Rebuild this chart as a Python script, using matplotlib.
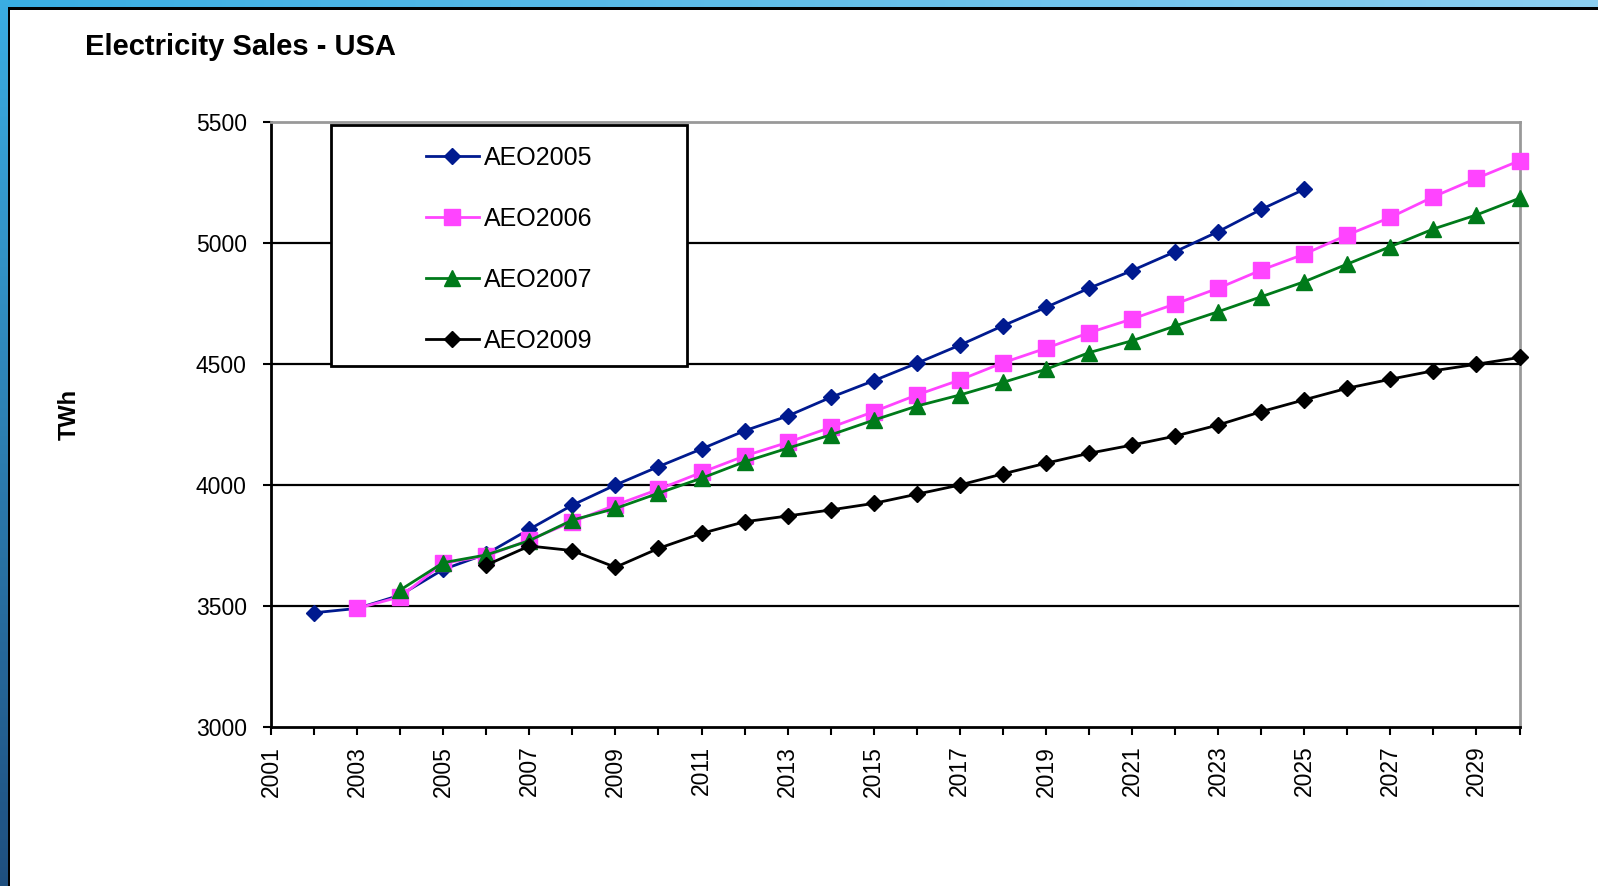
"""
Electricity sales projections for the USA from successive AEO editions.
"""
import matplotlib.pyplot as plt
from matplotlib.patches import Rectangle
import numpy as np

plt.rcParams['font.family'] = ['Liberation Sans', 'DejaVu Sans']

# Projection series (TWh), one list per AEO edition
years_2005 = list(range(2002, 2026))
aeo2005 = [3472, 3490, 3545, 3651, 3715, 3817, 3917, 4000, 4076, 4149, 4224, 4285,
           4362, 4431, 4503, 4578, 4658, 4734, 4813, 4886, 4964, 5047, 5139, 5222]

years_2006 = list(range(2003, 2031))
aeo2006 = [3490, 3538, 3676, 3707, 3773, 3848, 3917, 3982, 4052, 4120, 4176, 4238,
           4303, 4372, 4434, 4505, 4565, 4629, 4686, 4748, 4813, 4888, 4954, 5033,
           5106, 5191, 5267, 5340]

years_2007 = list(range(2004, 2031))
aeo2007 = [3566, 3679, 3711, 3770, 3855, 3903, 3966, 4028, 4096, 4152, 4207, 4268,
           4326, 4372, 4424, 4478, 4547, 4596, 4657, 4716, 4778, 4840, 4913, 4985,
           5058, 5116, 5185]

years_2009 = list(range(2006, 2031))
aeo2009 = [3669, 3748, 3729, 3660, 3738, 3800, 3848, 3872, 3897, 3924, 3962, 4000,
           4046, 4090, 4131, 4165, 4202, 4248, 4303, 4352, 4400, 4437, 4472, 4499,
           4527]

W, H = 1598, 886
fig = plt.figure(figsize=(W / 100, H / 100), dpi=100)

# slide background: blue strips on the top and left, white panel with black edge
bg = np.ones((H, W, 3))
top = np.linspace(0, 1, W)[:, None]
bg[:7, :, :] = (np.array([0.22, 0.68, 0.89]) * (1 - top) + np.array([0.55, 0.81, 0.94]) * top)[None, :, :]
left = np.linspace(0, 1, H)[:, None]
bg[:, :8, :] = (np.array([0.23, 0.68, 0.89]) * (1 - left) + np.array([0.12, 0.31, 0.50]) * left)[:, None, :]
bg[7:10, 8:, :] = 0.0
bg[7:, 8:10, :] = 0.0
bga = fig.add_axes([0, 0, 1, 1], zorder=-10)
bga.imshow(bg, aspect='auto', interpolation='nearest')
bga.axis('off')

ax = fig.add_axes([271 / W, 1 - 727 / H, 1248.5 / W, 605 / H])

series = [
    (years_2005, aeo2005, 'AEO2005', '#001a8f', 'D', 8),
    (years_2006, aeo2006, 'AEO2006', '#ff44ff', 's', 11),
    (years_2007, aeo2007, 'AEO2007', '#007a1a', '^', 11),
    (years_2009, aeo2009, 'AEO2009', '#000000', 'D', 8.3),
]
handles = []
for x, y, label, color, marker, ms in series:
    h, = ax.plot(x, y, color=color, lw=2, marker=marker, markersize=ms,
                 markeredgecolor=color, label=label, zorder=3, clip_on=False)
    handles.append(h)

ax.set_xlim(2001, 2030)
ax.set_ylim(3000, 5500)
ax.set_xticks(range(2001, 2031))
ax.set_xticklabels([str(y) if y % 2 == 1 else '' for y in range(2001, 2031)],
                   rotation=90)
ax.set_yticks([3000, 3500, 4000, 4500, 5000, 5500])
ax.tick_params(axis='both', direction='out', length=5.5, width=1.5,
               labelsize=16.5, color='black')
ax.tick_params(axis='x', pad=8)
ax.tick_params(axis='y', pad=12)

for s in ['left', 'bottom']:
    ax.spines[s].set_linewidth(2)
    ax.spines[s].set_color('black')
for s in ['top', 'right']:
    ax.spines[s].set_linewidth(2)
    ax.spines[s].set_color('#999999')

for v in [3500, 4000, 4500, 5000]:
    ax.axhline(v, color='black', lw=1.6, zorder=1)

ax.set_ylabel('TWh', fontsize=17, fontweight='bold')
ax.yaxis.set_label_coords(-0.152, 0.516)

# legend box drawn separately so it can be larger than its contents
x0, x1 = (331 - 271) / 1248.5, (687 - 271) / 1248.5
y0, y1 = (727 - 366) / 605, (727 - 125) / 605
ax.add_patch(Rectangle((x0, y0), x1 - x0, y1 - y0, transform=ax.transAxes,
                       facecolor='white', edgecolor='black', lw=2, zorder=4))
leg = ax.legend(handles=handles, loc='center',
                bbox_to_anchor=((x0 + x1) / 2, (y0 + y1) / 2 - 0.007),
                frameon=False, fontsize=18, handlelength=2.1,
                handletextpad=0.2, labelspacing=1.48, numpoints=1,
                borderpad=0)
leg.set_zorder(5)

fig.text(85 / W, 1 - 55 / H, 'Electricity Sales - USA', fontsize=21,
         fontweight='bold', va='baseline', ha='left')

fig.savefig('out.png', dpi=100)
